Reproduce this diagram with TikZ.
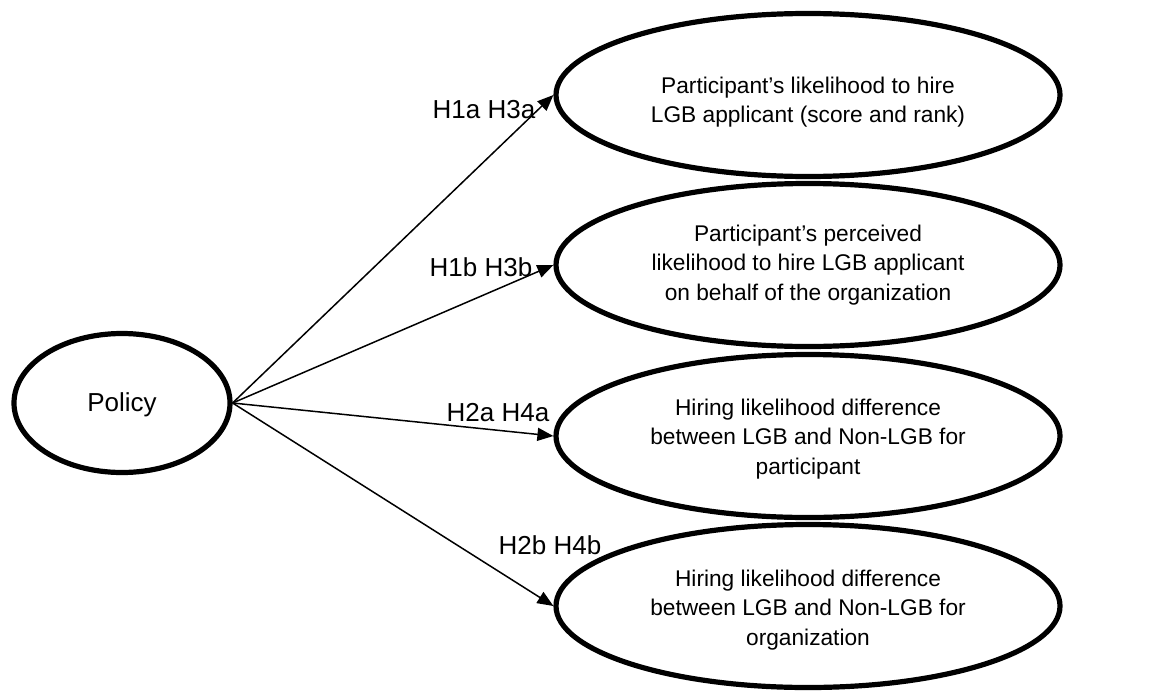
\documentclass[tikz,border=0pt]{standalone}
\usepackage{fontspec}
\setmainfont{Liberation Sans}
\usetikzlibrary{shapes.geometric,arrows.meta}
\begin{document}
\begin{tikzpicture}[x=0.5pt,y=-0.5pt,
  oval/.style={ellipse,draw,line width=2.6pt,inner sep=0pt},
  outcome/.style={oval,minimum width=252pt,minimum height=81.5pt},
  otext/.style={align=center,inner sep=0pt,font=\fontsize{11.35}{14.75}\selectfont},
  hyp/.style={font=\fontsize{13}{15}\selectfont,inner sep=0pt},
  link/.style={-{Triangle[length=8pt,width=6.5pt]},line width=0.75pt}]
\useasboundingbox (0,0) rectangle (1154,690);
\node[oval,minimum width=108pt,minimum height=69.5pt,font=\fontsize{13}{15}\selectfont] (policy) at (122,403) {};
\node[font=\fontsize{13}{15}\selectfont,inner sep=0pt] (ptext) at (122,405) {Policy};
\node[outcome] (e1) at (808,95) {};
\node[outcome] (e2) at (808,265) {};
\node[outcome] (e3) at (808,436) {};
\node[outcome] (e4) at (808,606) {};
\node[otext] (t1) at (808,102) {Participant’s likelihood to hire\\LGB applicant (score and rank)};
\node[otext] (t2) at (808,265) {Participant’s perceived\\likelihood to hire LGB applicant\\on behalf of the organization};
\node[otext] (t3) at (808,439) {Hiring likelihood difference\\between LGB and Non-LGB for\\participant};
\node[otext] (t4) at (808,610) {Hiring likelihood difference\\between LGB and Non-LGB for\\organization};
\draw[link] (policy.east) -- (e1.west);
\draw[link] (policy.east) -- (e2.west);
\draw[link] (policy.east) -- (e3.west);
\draw[link] (policy.east) -- (e4.west);
\node[hyp] (l1) at (484,110) {H1a H3a};
\node[hyp] (l2) at (481,267) {H1b H3b};
\node[hyp] (l3) at (498,413) {H2a H4a};
\node[hyp] (l4) at (550,545) {H2b H4b};
\end{tikzpicture}
\end{document}
